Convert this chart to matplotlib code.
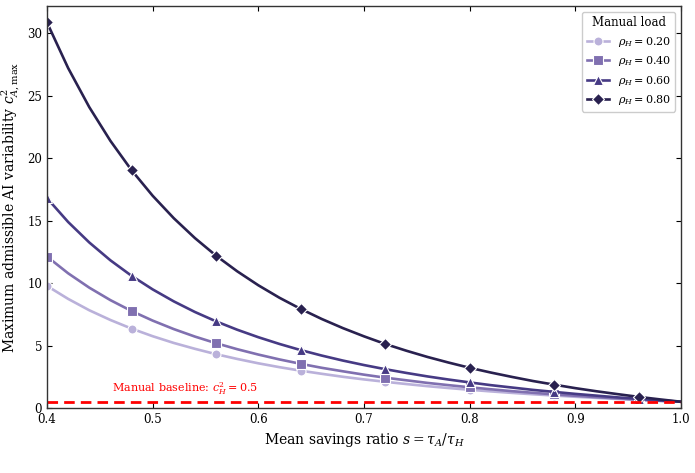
import matplotlib
matplotlib.use("Agg")
import matplotlib.pyplot as plt

# ==========================================
# DATA
# ==========================================
savings_ratio = [
    0.40, 0.42, 0.44, 0.46, 0.48, 0.50, 0.52, 0.54, 0.56, 0.58,
    0.60, 0.62, 0.64, 0.66, 0.68, 0.70, 0.72, 0.74, 0.76, 0.78,
    0.80, 0.82, 0.84, 0.86, 0.88, 0.90, 0.92, 0.94, 0.96, 0.98, 1.00,
]

cmax_rho_020 = [
    9.78, 8.74, 7.83, 7.05, 6.36, 5.75, 5.21, 4.74, 4.31, 3.93,
    3.58, 3.27, 2.99, 2.74, 2.50, 2.29, 2.10, 1.92, 1.75, 1.60,
    1.46, 1.33, 1.21, 1.10, 1.00, 0.90, 0.81, 0.72, 0.64, 0.57, 0.50,
]
cmax_rho_040 = [
    12.13, 10.79, 9.64, 8.64, 7.77, 7.00, 6.32, 5.72, 5.19, 4.71,
    4.28, 3.89, 3.54, 3.22, 2.94, 2.67, 2.43, 2.22, 2.01, 1.83,
    1.66, 1.50, 1.35, 1.22, 1.09, 0.98, 0.87, 0.77, 0.67, 0.58, 0.50,
]
cmax_rho_060 = [
    16.81, 14.90, 13.26, 11.83, 10.59, 9.50, 8.54, 7.69, 6.94, 6.27,
    5.67, 5.13, 4.64, 4.20, 3.80, 3.44, 3.11, 2.81, 2.53, 2.28,
    2.05, 1.83, 1.64, 1.45, 1.29, 1.13, 0.99, 0.85, 0.73, 0.61, 0.50,
]
cmax_rho_080 = [
    30.88, 27.23, 24.10, 21.40, 19.05, 17.00, 15.20, 13.61, 12.20, 10.95,
    9.83, 8.83, 7.94, 7.13, 6.40, 5.74, 5.13, 4.59, 4.09, 3.64,
    3.22, 2.84, 2.49, 2.16, 1.87, 1.59, 1.34, 1.11, 0.89, 0.69, 0.50,
]

rho_labels = ["0.20", "0.40", "0.60", "0.80"]
manual_baseline = 0.5

# ==========================================
# STYLE
# ==========================================
plt.rcParams["font.family"] = ["DejaVu Serif"]
plt.rcParams["mathtext.fontset"] = "dejavuserif"
plt.rcParams["font.size"] = 8

series = [cmax_rho_020, cmax_rho_040, cmax_rho_060, cmax_rho_080]
colors = ["#bab1da", "#8070b0", "#463a84", "#29214f"]
markers = ["o", "s", "^", "D"]

fig = plt.figure(figsize=(6.95, 4.73), dpi=100)
ax = fig.add_axes([47 / 695, 1 - 408 / 473, (681 - 47) / 695, (408 - 6) / 473])

for values, label, color, marker in zip(series, rho_labels, colors, markers):
    ax.plot(
        savings_ratio,
        values,
        color=color,
        linewidth=1.9,
        marker=marker,
        markevery=4,
        markersize=6.5,
        markeredgecolor="white",
        markeredgewidth=0.8,
        label=rf"$\rho_H = {label}$",
    )

# Manual baseline reference
ax.axhline(manual_baseline, color="red", linestyle=(0, (3.8, 2.2)), linewidth=2.0)
ax.text(
    0.4615,
    0.85,
    r"Manual baseline: $c_H^2 = 0.5$",
    color="red",
    fontsize=8,
    va="bottom",
)

ax.set_xlim(0.4, 1.0)
ax.set_ylim(0, 32.2)
ax.set_xlabel(r"Mean savings ratio $s = \tau_A/\tau_H$", fontsize=10)
ax.set_ylabel(r"Maximum admissible AI variability $c^2_{A,\max}$", fontsize=10)

ax.tick_params(direction="in", top=True, right=True, length=3.5, width=0.8,
               labelsize=8.5)
for spine in ax.spines.values():
    spine.set_color("#333333")
    spine.set_linewidth(1.0)

ax.legend(
    title="Manual load",
    loc="upper right",
    fontsize=8,
    title_fontsize=8.5,
    framealpha=1.0,
    edgecolor="#cccccc",
)

fig.savefig("out.png", dpi=100)
